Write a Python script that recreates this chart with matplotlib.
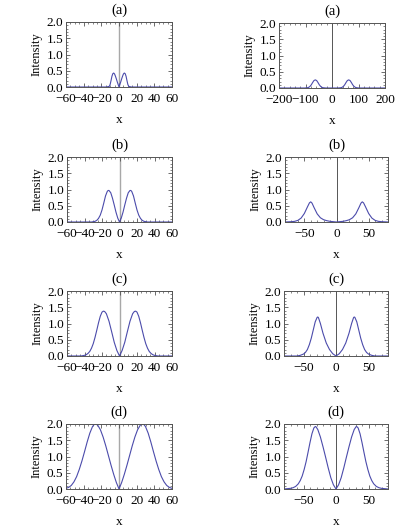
import numpy as np
import matplotlib.pyplot as plt
from matplotlib.ticker import MultipleLocator

plt.rcParams["font.family"] = ["Liberation Serif", "DejaVu Serif"]
plt.rcParams["font.size"] = 9.5

# ============================================================
# DATA
# ============================================================
TITLES = ["(a)", "(b)", "(c)", "(d)"]

# left column
xa_l = [-60, -14, -11, -10, -9, -8, -7, -6, -5, -4, -3, -2, -1, 0,
        1, 2, 3, 4, 5, 6, 7, 8, 9, 10, 11, 14, 60]
ya_l = [0.0, 0.0, 0.02, 0.08, 0.2, 0.33, 0.41, 0.43, 0.4, 0.33, 0.25, 0.16, 0.08, 0.0,
        0.08, 0.16, 0.25, 0.33, 0.4, 0.43, 0.41, 0.33, 0.2, 0.08, 0.02, 0.0, 0.0]

xb_l = [-60, -32, -28, -26, -24, -22, -20, -18, -16, -14, -13, -12, -10, -8, -6, -4, -2, 0,
        2, 4, 6, 8, 10, 12, 13, 14, 16, 18, 20, 22, 24, 26, 28, 32, 60]
yb_l = [0.0, 0.0, 0.02, 0.05, 0.11, 0.21, 0.37, 0.58, 0.8, 0.94, 0.97, 0.97, 0.9, 0.73, 0.52, 0.3, 0.12, 0.0,
        0.12, 0.3, 0.52, 0.73, 0.9, 0.97, 0.97, 0.94, 0.8, 0.58, 0.37, 0.21, 0.11, 0.05, 0.02, 0.0, 0.0]

xc_l = [-60, -44, -40, -38, -36, -34, -32, -30, -28, -26, -24, -22, -20, -18.5, -17, -15, -12, -9, -6, -3, 0,
        3, 6, 9, 12, 15, 17, 18.5, 20, 22, 24, 26, 28, 30, 32, 34, 36, 38, 40, 44, 60]
yc_l = [0.0, 0.0, 0.02, 0.04, 0.08, 0.14, 0.24, 0.38, 0.57, 0.79, 1.02, 1.22, 1.35, 1.38, 1.37, 1.3, 1.07, 0.75, 0.42, 0.17, 0.0,
        0.17, 0.42, 0.75, 1.07, 1.3, 1.37, 1.38, 1.35, 1.22, 1.02, 0.79, 0.57, 0.38, 0.24, 0.14, 0.08, 0.04, 0.02, 0.0, 0.0]

xd_l = [-60, -57, -54, -51, -48, -45, -42, -39, -36, -33, -30, -28, -27, -26, -24, -21, -18, -15, -12, -9, -6, -3, 0,
        3, 6, 9, 12, 15, 18, 21, 24, 26, 27, 28, 30, 33, 36, 39, 42, 45, 48, 51, 54, 57, 60]
yd_l = [0.02, 0.05, 0.11, 0.22, 0.38, 0.6, 0.86, 1.15, 1.45, 1.72, 1.92, 1.99, 2.0, 2.0, 1.96, 1.82, 1.6, 1.33, 1.03, 0.73, 0.45, 0.2, 0.0,
        0.2, 0.45, 0.73, 1.03, 1.33, 1.6, 1.82, 1.96, 2.0, 2.0, 1.99, 1.92, 1.72, 1.45, 1.15, 0.86, 0.6, 0.38, 0.22, 0.11, 0.05, 0.02]

# right column
xa_r = [-200, -103, -93, -88, -83, -78, -73, -68, -63, -58, -53, -48, -43, -38, -33, -23, 0,
        23, 33, 38, 43, 48, 53, 58, 63, 68, 73, 78, 83, 88, 93, 103, 200]
ya_r = [0.0, 0.0, 0.008, 0.02, 0.05, 0.1, 0.17, 0.23, 0.25, 0.23, 0.17, 0.1, 0.05, 0.02, 0.008, 0.0, 0.0,
        0.0, 0.008, 0.02, 0.05, 0.1, 0.17, 0.23, 0.25, 0.23, 0.17, 0.1, 0.05, 0.02, 0.008, 0.0, 0.0]

xb_r = [-80, -70, -65, -60, -55, -50, -45, -42, -40, -38, -35, -30, -25, -20, -15, -10, -5, 0,
        5, 10, 15, 20, 25, 30, 35, 38, 40, 42, 45, 50, 55, 60, 65, 70, 80]
yb_r = [0.0, 0.01, 0.02, 0.05, 0.12, 0.26, 0.47, 0.59, 0.62, 0.58, 0.45, 0.25, 0.13, 0.07, 0.04, 0.02, 0.01, 0.0,
        0.01, 0.02, 0.04, 0.07, 0.13, 0.25, 0.45, 0.58, 0.62, 0.59, 0.47, 0.26, 0.12, 0.05, 0.02, 0.01, 0.0]

xc_r = [-80, -60, -55, -50, -47, -44, -41, -38, -35, -32, -29, -28, -27, -24, -20, -15, -10, -5, 0,
        5, 10, 15, 20, 24, 27, 28, 29, 32, 35, 38, 41, 44, 47, 50, 55, 60, 80]
yc_r = [0.0, 0.0, 0.02, 0.06, 0.11, 0.2, 0.35, 0.55, 0.8, 1.05, 1.19, 1.2, 1.18, 1.0, 0.7, 0.4, 0.2, 0.07, 0.0,
        0.07, 0.2, 0.4, 0.7, 1.0, 1.18, 1.2, 1.19, 1.05, 0.8, 0.55, 0.35, 0.2, 0.11, 0.06, 0.02, 0.0, 0.0]

xd_r = [-80, -70, -66, -62, -58, -55, -52, -49, -46, -43, -40, -37, -34, -32, -31, -28, -24, -20, -16, -12, -8, -4, 0,
        4, 8, 12, 16, 20, 24, 28, 31, 32, 34, 37, 40, 43, 46, 49, 52, 55, 58, 62, 66, 70, 80]
yd_r = [0.0, 0.02, 0.04, 0.08, 0.16, 0.26, 0.4, 0.6, 0.84, 1.13, 1.43, 1.7, 1.88, 1.92, 1.92, 1.83, 1.6, 1.3, 0.98, 0.65, 0.35, 0.13, 0.0,
        0.13, 0.35, 0.65, 0.98, 1.3, 1.6, 1.83, 1.92, 1.92, 1.88, 1.7, 1.43, 1.13, 0.84, 0.6, 0.4, 0.26, 0.16, 0.08, 0.04, 0.02, 0.0]

LEFT_X = [xa_l, xb_l, xc_l, xd_l]
LEFT_Y = [ya_l, yb_l, yc_l, yd_l]
RIGHT_X = [xa_r, xb_r, xc_r, xd_r]
RIGHT_Y = [ya_r, yb_r, yc_r, yd_r]

# ============================================================
# LAYOUT (pixel boxes: x0, x1, y_top, y_bottom)
# ============================================================
W, H = 415, 527
LEFT_BOXES = [(66, 172, 22, 87), (67, 172, 157, 222), (67, 172, 291, 356), (66, 172, 424, 489)]
RIGHT_BOXES = [(279, 385, 23, 88), (285, 388, 157, 222), (284, 388, 291, 356), (284, 388, 424, 489)]

LINE_COLOR = "#4b4bab"
FRAME_COLOR = "#555555"


def box_to_rect(box):
    x0, x1, yt, yb = box
    return [x0 / W, 1 - yb / H, (x1 - x0) / W, (yb - yt) / H]


def style_axes(ax, xlim, xmajor, xminor, zero_color, zero_lw):
    ax.set_xlim(*xlim)
    ax.set_ylim(0, 2.0)
    ax.xaxis.set_major_locator(MultipleLocator(xmajor))
    ax.xaxis.set_minor_locator(MultipleLocator(xminor))
    ax.yaxis.set_major_locator(MultipleLocator(0.5))
    ax.yaxis.set_minor_locator(MultipleLocator(0.1))
    ax.yaxis.set_major_formatter(plt.FormatStrFormatter("%.1f"))
    ax.tick_params(which="both", direction="in", top=True, right=True,
                   color=FRAME_COLOR, labelsize=9.5)
    ax.tick_params(axis="x", pad=4)
    ax.tick_params(axis="y", pad=2)
    ax.tick_params(which="major", length=3, width=0.6)
    ax.tick_params(which="minor", length=1.5, width=0.5)
    for sp in ax.spines.values():
        sp.set_color(FRAME_COLOR)
        sp.set_linewidth(0.7)
    ax.axvline(0, color=zero_color, linewidth=zero_lw, zorder=1)
    ax.set_ylabel("Intensity", fontsize=9, labelpad=3)
    ax.set_xlabel("x", fontsize=9.5, labelpad=7)


fig = plt.figure(figsize=(W / 100, H / 100), dpi=100)

for i in range(4):
    ax = fig.add_axes(box_to_rect(LEFT_BOXES[i]))
    ax.plot(LEFT_X[i], LEFT_Y[i], color=LINE_COLOR, linewidth=0.8, zorder=2)
    style_axes(ax, (-60, 60), 20, 5, "#a8a8a8", 1.0)
    ax.set_title(TITLES[i], fontsize=10.5, pad=6)

    ax = fig.add_axes(box_to_rect(RIGHT_BOXES[i]))
    ax.plot(RIGHT_X[i], RIGHT_Y[i], color=LINE_COLOR, linewidth=0.8, zorder=2)
    if i == 0:
        style_axes(ax, (-200, 200), 100, 20, "#555555", 0.7)
    else:
        style_axes(ax, (-80, 80), 50, 10, "#555555", 0.7)
    ax.set_title(TITLES[i], fontsize=10.5, pad=6)

fig.savefig("out.png", dpi=100)
